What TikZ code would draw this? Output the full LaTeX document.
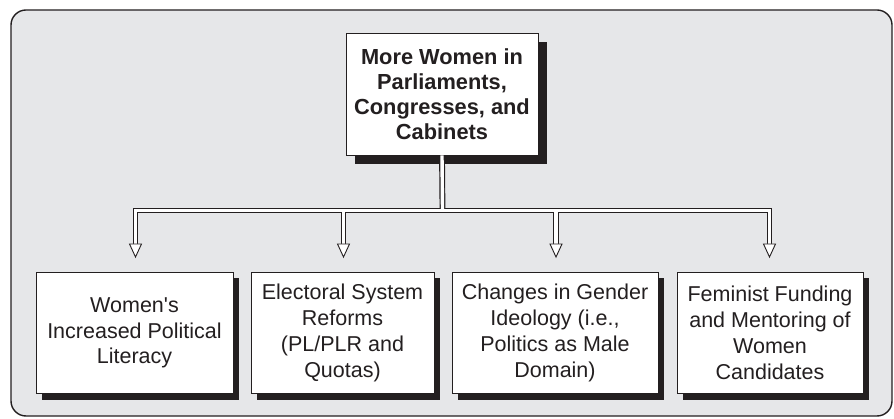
\documentclass[tikz,border=0pt]{standalone}
\usepackage{fontspec}
\setmainfont{Liberation Sans}
\usetikzlibrary{shadows}
\definecolor{bggray}{HTML}{E6E7E9}
\definecolor{ink}{HTML}{231F20}
\begin{document}
\begin{tikzpicture}[x=1pt,y=-1pt,
  topbox/.style={draw=ink, line width=0.9pt, fill=white, minimum width=192pt, minimum height=122pt,
    align=center, inner sep=0pt, text=ink, font=\fontsize{21.8}{25}\selectfont\bfseries,
    drop shadow={shadow xshift=9pt, shadow yshift=-9pt, fill=ink, opacity=1}},
  leafbox/.style={draw=ink, line width=0.9pt, fill=white, minimum height=121pt,
    align=center, inner sep=0pt, text=ink, font=\fontsize{21.5}{25.8}\selectfont,
    drop shadow={shadow xshift=6pt, shadow yshift=-6pt, fill=ink, opacity=1}},
  tipshape/.style={draw=ink, line width=0.9pt, fill=white, line join=miter}
]
\useasboundingbox (0,0) rectangle (894,419);
\draw[fill=bggray, draw=ink, line width=1.4pt, rounded corners=15pt] (11,10) rectangle (892,416);

\node[topbox] (top) at (442,94) {More Women in\\Parliaments,\\Congresses, and\\Cabinets};

\node[leafbox, minimum width=197pt] (b1) at (134.5,333) {Women\textquotesingle s\\Increased Political\\Literacy};
\node[leafbox, minimum width=183pt] (b2) at (342.5,333) {Electoral System\\Reforms\\(PL/PLR and\\Quotas)};
\node[leafbox, minimum width=206pt] (b3) at (555,333) {Changes in Gender\\Ideology (i.e.,\\Politics as Male\\Domain)};
\node[leafbox, minimum width=186pt] (b4) at (770,333) {Feminist Funding\\and Mentoring of\\Women\\Candidates};

\coordinate (j) at (442.5,210.5);
\coordinate (h1) at (135.5,210.5);
\coordinate (h4) at (769.5,210.5);
\coordinate (a1) at (135.5,244);
\coordinate (a2) at (343.5,244);
\coordinate (a3) at (556,244);
\coordinate (a4) at (769.5,244);
\coordinate (h2) at (343.5,210.5);
\coordinate (h3) at (556,210.5);

\foreach \w/\c in {5.8pt/ink, 3.4pt/white}{
  \draw[line width=\w, draw=\c, line join=miter] (top.south) -- (j);
  \draw[line width=\w, draw=\c, line join=miter] (a1) -- (h1) -- (h4) -- (a4);
  \draw[line width=\w, draw=\c] (h2) -- (a2);
  \draw[line width=\w, draw=\c] (h3) -- (a3);
}
\foreach \a in {a1,a2,a3,a4}{
  \draw[tipshape] ([xshift=-6pt]\a) -- ([xshift=6pt]\a) -- ([yshift=-13pt]\a) -- cycle;
}
\end{tikzpicture}
\end{document}
